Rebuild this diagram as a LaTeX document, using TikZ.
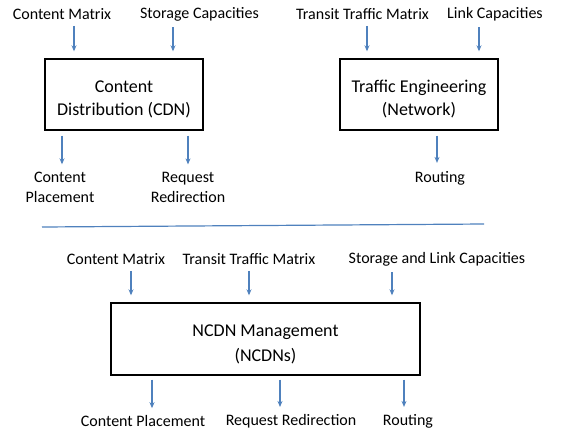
\documentclass[tikz,border=0pt]{standalone}
\usepackage{fontspec}
\setmainfont{Carlito}
\usetikzlibrary{arrows.meta}
\definecolor{accblue}{RGB}{79,129,189}
\newcommand{\boxlift}{\rule{0pt}{22pt}}
\tikzset{
  lbl/.style={inner sep=0pt,font=\fontsize{16}{19.5}\selectfont,align=center},
  box/.style={draw,line width=1.4pt,inner sep=0pt,align=center,font=\fontsize{18}{23}\selectfont},
  arr/.style={draw=accblue,line width=1.4pt,-{Stealth[length=6pt,width=5pt]},shorten <=6pt,shorten >=7pt}
}
\begin{document}
\begin{tikzpicture}[x=1pt,y=-1pt]
\useasboundingbox (0,0) rectangle (568,432);
% CDN part
\node[lbl] (cm) at (62,14) {Content Matrix};
\node[lbl] (sc) at (199.5,14) {Storage Capacities};
\node[box,minimum width=158pt,minimum height=71pt] (cdn) at (124,94.5) {\boxlift Content\\Distribution (CDN)};
\node[lbl] (cp) at (60,187.5) {Content\\Placement};
\node[lbl] (rr) at (188,187.5) {Request\\Redirection};
\draw[arr] ([xshift=12pt]cm.south) -- ([xshift=12pt]cm.south |- cdn.north);
\draw[arr] ([xshift=-26.5pt]sc.south) -- ([xshift=-26.5pt]sc.south |- cdn.north);
\draw[arr,shorten <=5pt,shorten >=8pt] ([xshift=2pt]cp.north |- cdn.south) -- ([xshift=2pt]cp.north);
\draw[arr,shorten <=5pt,shorten >=8pt] (rr.north |- cdn.south) -- (rr.north);
% TE part
\node[lbl] (ttm) at (362.5,14) {Transit Traffic Matrix};
\node[lbl] (lc) at (495,14) {Link Capacities};
\node[box,minimum width=158pt,minimum height=71pt] (te) at (419,94.5) {\boxlift Traffic Engineering\\(Network)};
\node[lbl] (rt) at (440,178) {Routing};
\draw[arr] ([xshift=4.5pt]ttm.south) -- ([xshift=4.5pt]ttm.south |- te.north);
\draw[arr] ([xshift=-16pt]lc.south) -- ([xshift=-16pt]lc.south |- te.north);
\draw[arr,shorten <=5pt,shorten >=8pt] ([xshift=-3pt]rt.north |- te.south) -- ([xshift=-3pt]rt.north);
% separator
\draw[accblue,line width=1.2pt] (42,227) -- (484,224);
% NCDN part
\node[lbl] (cm2) at (116,259) {Content Matrix};
\node[lbl] (ttm2) at (249,259) {Transit Traffic Matrix};
\node[lbl] (slc) at (437,259) {Storage and Link Capacities};
\node[box,minimum width=309pt,minimum height=72pt,font=\fontsize{18}{25}\selectfont] (ncdn) at (265.5,339) {\boxlift NCDN Management\\(NCDNs)};
\node[lbl] (cp2) at (143,421) {Content Placement};
\node[lbl] (rr2) at (291,421) {Request Redirection};
\node[lbl] (rt2) at (408,421) {Routing};
\draw[arr] ([xshift=15pt]cm2.south) -- ([xshift=15pt]cm2.south |- ncdn.north);
\draw[arr] (ttm2.south) -- (ttm2.south |- ncdn.north);
\draw[arr] ([xshift=-45pt]slc.south) -- ([xshift=-45pt]slc.south |- ncdn.north);
\draw[arr,shorten <=4pt,shorten >=7pt] ([xshift=9pt]cp2.north |- ncdn.south) -- ([xshift=9pt]cp2.north);
\draw[arr,shorten <=4pt,shorten >=7pt] ([xshift=-11pt]rr2.north |- ncdn.south) -- ([xshift=-11pt]rr2.north);
\draw[arr,shorten <=4pt,shorten >=7pt] ([xshift=-4pt]rt2.north |- ncdn.south) -- ([xshift=-4pt]rt2.north);
\end{tikzpicture}
\end{document}
